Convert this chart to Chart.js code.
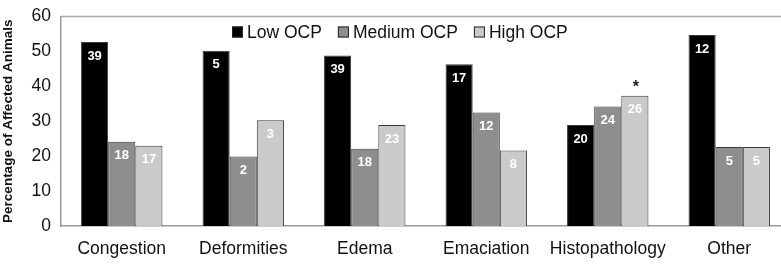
<!DOCTYPE html>
<html>
<head>
<meta charset="utf-8">
<script src="https://cdn.jsdelivr.net/npm/chart.js@4"></script>
<style>
  html, body { margin: 0; padding: 0; background: #fff; overflow: hidden; }
  #wrap { width: 790px; height: 265px; }
</style>
</head>
<body>
<div id="wrap"><canvas id="chart"></canvas></div>
<script>
// values
const categories = ['Congestion', 'Deformities', 'Edema', 'Emaciation', 'Histopathology', 'Other'];
const lowOCP = [52.7, 50.2, 48.8, 46.3, 28.9, 54.7];
const mediumOCP = [24.1, 19.9, 22.1, 32.5, 34.2, 22.6];
const highOCP = [23.0, 30.3, 28.9, 21.6, 37.3, 22.6];
// animal counts printed inside the bars
const lowCounts = [39, 5, 39, 17, 20, 12];
const mediumCounts = [18, 2, 18, 12, 24, 5];
const highCounts = [17, 3, 23, 8, 26, 5];
const highMarks = ['', '', '', '', '*', ''];
const yTicks = [0, 10, 20, 30, 40, 50, 60];

const FONT = '"Liberation Sans", Arial, sans-serif';

const barLabels = {
    id: 'barLabels',
    afterDatasetsDraw(chart) {
        const ctx = chart.ctx;
        ctx.save();
        ctx.textAlign = 'center';
        ctx.textBaseline = 'middle';
        chart.data.datasets.forEach((ds, i) => {
            const meta = chart.getDatasetMeta(i);
            meta.data.forEach((bar, j) => {
                ctx.font = 'bold 13px ' + FONT;
                ctx.fillStyle = '#fff';
                ctx.fillText(String(ds.counts[j]), bar.x, bar.y + 14);
                if (ds.marks && ds.marks[j]) {
                    ctx.font = 'bold 16px ' + FONT;
                    ctx.fillStyle = '#222';
                    ctx.fillText(ds.marks[j], bar.x + 1, bar.y - 8);
                }
            });
        });
        ctx.restore();
    }
};

const frameAndLegend = {
    id: 'frameAndLegend',
    afterDraw(chart) {
        const ctx = chart.ctx;
        const a = chart.chartArea;
        ctx.save();
        ctx.strokeStyle = '#aaa';
        ctx.lineWidth = 1.5;
        ctx.beginPath();
        ctx.moveTo(a.left, a.top);
        ctx.lineTo(a.right, a.top);
        ctx.stroke();

        // legend inside the plot
        ctx.font = '17.5px ' + FONT;
        ctx.textBaseline = 'middle';
        let x = 232;
        const y = 32;
        chart.data.datasets.forEach(ds => {
            ctx.fillStyle = ds.backgroundColor;
            ctx.fillRect(x, y - 5.5, 11, 11);
            ctx.strokeStyle = '#222';
            ctx.lineWidth = 1;
            ctx.strokeRect(x + 0.5, y - 5, 10, 10);
            ctx.fillStyle = '#111';
            ctx.textAlign = 'left';
            ctx.fillText(ds.label, x + 15, y + 1);
            x += 15 + ctx.measureText(ds.label).width + 16;
        });
        ctx.restore();
    }
};

new Chart(document.getElementById('chart'), {
    type: 'bar',
    data: {
        labels: categories,
        datasets: [
            { label: 'Low OCP', data: lowOCP, counts: lowCounts, backgroundColor: '#000000' },
            { label: 'Medium OCP', data: mediumOCP, counts: mediumCounts, backgroundColor: '#8e8e8e' },
            { label: 'High OCP', data: highOCP, counts: highCounts, marks: highMarks, backgroundColor: '#cacaca' }
        ].map(d => Object.assign(d, {
            borderColor: '#3a3a3a',
            borderWidth: 1,
            barPercentage: 1,
            categoryPercentage: 0.67
        }))
    },
    options: {
        responsive: true,
        maintainAspectRatio: false,
        animation: false,
        layout: { padding: { top: 12, left: 0, right: 0, bottom: 0 } },
        plugins: {
            legend: { display: false },
            tooltip: { enabled: false }
        },
        scales: {
            x: {
                grid: { display: false, drawTicks: false },
                border: { color: '#999', width: 1.5 },
                ticks: {
                    color: '#111',
                    font: { family: FONT, size: 17.5 },
                    padding: 13,
                    maxRotation: 0,
                    minRotation: 0,
                    autoSkip: false
                },
                afterFit: s => { s.height = 39; }
            },
            y: {
                min: 0,
                max: 60,
                afterBuildTicks: s => { s.ticks = yTicks.map(v => ({ value: v })); },
                grid: { display: false, drawOnChartArea: false, drawTicks: true, tickLength: 4, tickColor: '#999' },
                border: { color: '#999', width: 1.5 },
                ticks: { color: '#111', font: { family: FONT, size: 17.5 }, padding: 6 },
                title: {
                    display: true,
                    text: 'Percentage of Affected Animals',
                    color: '#111',
                    font: { family: FONT, size: 13.5, weight: 'bold' },
                    padding: { top: 0, bottom: 2 }
                },
                afterFit: s => { s.width = 61; }
            }
        }
    },
    plugins: [barLabels, frameAndLegend]
});
</script>
</body>
</html>
